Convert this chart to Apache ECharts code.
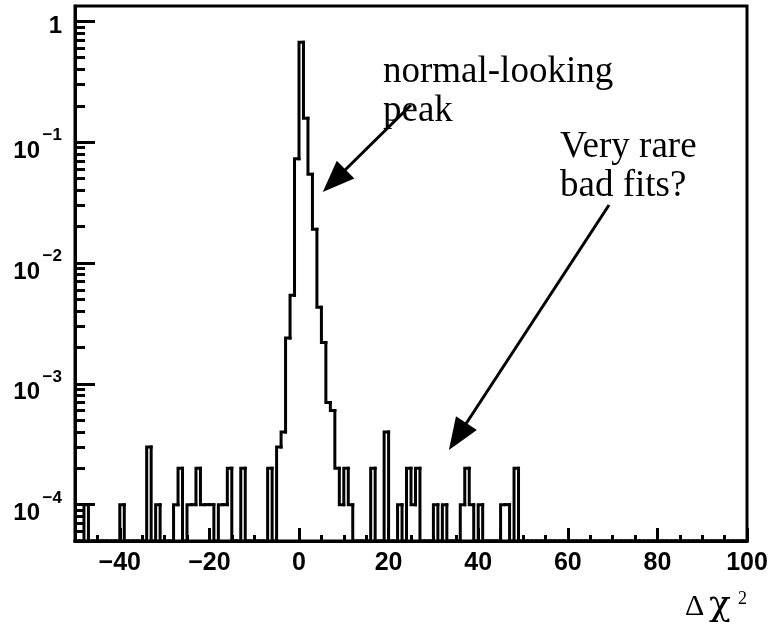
<!DOCTYPE html>
<html><head><meta charset="utf-8">
<script src="https://cdn.jsdelivr.net/npm/echarts@6/dist/echarts.min.js"></script>
<style>html,body{margin:0;padding:0;background:#fff}#c{width:772px;height:625px}</style>
</head><body><div id="c"></div>
<script>
// Histogram of delta chi^2, bins of width 1 from -50 to 100 (normalised fractions)
const binStart = -50;
const binWidth = 1;
const histValues = [
  // -50 .. -41
  0, 0, 1e-4, 0, 0, 0, 0, 0, 0, 0,
  // -40 .. -31
  1e-4, 0, 0, 0, 0, 0, 3e-4, 0, 1e-4, 0,
  // -30 .. -21
  0, 0, 1e-4, 2e-4, 0, 1e-4, 1e-4, 2e-4, 1e-4, 1e-4,
  // -20 .. -11
  1e-4, 0, 1e-4, 1e-4, 2e-4, 0, 0, 2e-4, 0, 0,
  // -10 .. -1
  0, 0, 0, 2e-4, 0, 3e-4, 4e-4, 2.4e-3, 5.4e-3, 0.073,
  // 0 .. 9
  0.671, 0.158, 0.0542, 0.019, 0.0043, 0.0022, 7e-4, 6e-4, 2e-4, 1e-4,
  // 10 .. 19
  2e-4, 1e-4, 0, 0, 0, 0, 2e-4, 0, 0, 4e-4,
  // 20 .. 29
  0, 0, 1e-4, 0, 2e-4, 1e-4, 2e-4, 0, 0, 0,
  // 30 .. 39
  1e-4, 0, 1e-4, 0, 0, 0, 1e-4, 2e-4, 1e-4, 0,
  // 40 .. 49
  1e-4, 0, 0, 0, 0, 1e-4, 1e-4, 0, 2e-4, 0,
  // 50 .. 99
  0,0,0,0,0,0,0,0,0,0, 0,0,0,0,0,0,0,0,0,0,
  0,0,0,0,0,0,0,0,0,0, 0,0,0,0,0,0,0,0,0,0,
  0,0,0,0,0,0,0,0,0,0
];
const xTickLabels = [-40, -20, 0, 20, 40, 60, 80, 100];
const xMinorTicks = [-45, -35, -30, -25, -15, -10, -5, 5, 10, 15, 25, 30, 35, 45, 50, 55, 65, 70, 75, 85, 90, 95];
const yTickValues = [1e-4, 1e-3, 1e-2, 1e-1, 1];
const yPowerLabels = [1e-4, 1e-3, 1e-2, 1e-1];
const yUnitLabel = [1];
const yMinorTicks = [6e-5, 7e-5, 8e-5, 9e-5,
  2e-4, 3e-4, 4e-4, 5e-4, 6e-4, 7e-4, 8e-4, 9e-4,
  2e-3, 3e-3, 4e-3, 5e-3, 6e-3, 7e-3, 8e-3, 9e-3,
  2e-2, 3e-2, 4e-2, 5e-2, 6e-2, 7e-2, 8e-2, 9e-2,
  0.2, 0.3, 0.4, 0.5, 0.6, 0.7, 0.8, 0.9];
// annotation arrows (data coordinates: [x, y]), tail -> arrow-head centre
const arrowPeak = [[25.0, 0.203], [7.85, 0.0479]];
const arrowTail = [[69.2, 0.0302], [35.42, 3.66e-4]];

const X_MIN = -50, X_MAX = 100, Y_MIN = 5e-5, Y_MAX = 1.34;

const histData = histValues.map((v, i) => [binStart + i * binWidth, binStart + (i + 1) * binWidth, v]);

const chart = echarts.init(document.getElementById('c'), null, {renderer: 'canvas'});
const boldSans = {fontFamily: 'Liberation Sans', fontWeight: 'bold', color: '#000'};
const hiddenAxisBits = {axisLine: {show: false, onZero: false}, splitLine: {show: false}};

const option = {
  animation: false,
  backgroundColor: '#fff',
  grid: {left: 75, right: 25, top: 6, bottom: 84, show: true, borderColor: '#000', borderWidth: 3, backgroundColor: 'transparent'},
  xAxis: [{
    type: 'value', min: X_MIN, max: X_MAX, position: 'bottom',
    axisLine: {show: true, onZero: false, lineStyle: {color: '#000', width: 3}},
    splitLine: {show: false},
    axisTick: {show: true, inside: true, length: 13, lineStyle: {color: '#000', width: 3}, customValues: xTickLabels},
    axisLabel: Object.assign({show: true, margin: 10, customValues: xTickLabels, fontSize: 25,
      formatter: v => (v < 0 ? '\u2212' + Math.abs(v) : String(v))}, boldSans)
  }, Object.assign({
    type: 'value', min: X_MIN, max: X_MAX, position: 'bottom',
    axisLabel: {show: false},
    axisTick: {show: true, inside: true, length: 6, lineStyle: {color: '#000', width: 3}, customValues: xMinorTicks}
  }, hiddenAxisBits)],
  yAxis: [{
    // main axis: line, major ticks, mantissa "10"
    type: 'log', min: Y_MIN, max: Y_MAX, position: 'left', logBase: 10,
    axisLine: {show: true, onZero: false, lineStyle: {color: '#000', width: 3}},
    splitLine: {show: false},
    axisTick: {show: true, inside: true, length: 20, lineStyle: {color: '#000', width: 3}, customValues: yTickValues},
    axisLabel: Object.assign({show: true, margin: 35, customValues: yPowerLabels, fontSize: 24,
      verticalAlign: 'top', lineHeight: 18, formatter: () => '10'}, boldSans)
  }, Object.assign({
    // minor ticks + the "1" label
    type: 'log', min: Y_MIN, max: Y_MAX, position: 'left', logBase: 10,
    axisTick: {show: true, inside: true, length: 10, lineStyle: {color: '#000', width: 3}, customValues: yMinorTicks},
    axisLabel: Object.assign({show: true, margin: 13, customValues: yUnitLabel, fontSize: 24,
      verticalAlign: 'top', lineHeight: 10, formatter: () => '1'}, boldSans)
  }, hiddenAxisBits), Object.assign({
    // exponents
    type: 'log', min: Y_MIN, max: Y_MAX, position: 'left', logBase: 10,
    axisTick: {show: false},
    axisLabel: Object.assign({show: true, margin: 13, customValues: yPowerLabels, fontSize: 17,
      verticalAlign: 'bottom', lineHeight: 13,
      formatter: v => '\u2212' + Math.abs(Math.round(Math.log10(v)))}, boldSans)
  }, hiddenAxisBits)],
  series: [{
    type: 'custom',
    xAxisIndex: 0, yAxisIndex: 0,
    data: histData,
    encode: {x: [0, 1], y: 2},
    clip: false,
    renderItem: function (params, api) {
      const i = params.dataIndex;
      const cs = params.coordSys;
      const bottom = cs.y + cs.height;
      const lo = histData[i][0], hi = histData[i][1], v = histData[i][2];
      const prev = i > 0 ? histData[i - 1][2] : 0;
      const yOf = val => (val > 0 ? api.coord([lo, val])[1] : bottom);
      const xL = api.coord([lo, 1])[0];
      const xR = api.coord([hi, 1])[0];
      const pts = [[xL, yOf(prev)], [xL, yOf(v)], [xR, yOf(v)]];
      if (i === histData.length - 1) pts.push([xR, bottom]);
      return {type: 'polyline', shape: {points: pts},
        style: {stroke: '#000', lineWidth: 3, fill: null, lineCap: 'square', lineJoin: 'miter'}};
    },
    markLine: {
      silent: true, animation: false,
      symbol: ['none', 'triangle'], symbolSize: [25, 32],
      label: {show: false},
      lineStyle: {color: '#000', width: 3, type: 'solid'},
      itemStyle: {color: '#000'},
      data: [
        [{coord: arrowPeak[0]}, {coord: arrowPeak[1]}],
        [{coord: arrowTail[0]}, {coord: arrowTail[1]}]
      ]
    }
  }],
  graphic: [
    {type: 'text', left: 383, top: 53, style: {text: 'normal-looking\npeak', font: '37px "Liberation Serif"', lineHeight: 39, fill: '#000'}},
    {type: 'text', left: 560, top: 128, style: {text: 'Very rare\nbad fits?', font: '37px "Liberation Serif"', lineHeight: 39, fill: '#000'}},
    {type: 'text', left: 685, top: 592, style: {text: '\u0394', font: '30px "Liberation Serif"', lineHeight: 30, fill: '#000'}},
    {type: 'text', left: 709, top: 588, style: {text: '\u03c7', font: '36px "DejaVu Serif"', lineHeight: 36, fill: '#000'}},
    {type: 'text', left: 738, top: 590, style: {text: '2', font: '18px "Liberation Serif"', lineHeight: 18, fill: '#000'}}
  ]
};
chart.setOption(option);
</script>
</body></html>
